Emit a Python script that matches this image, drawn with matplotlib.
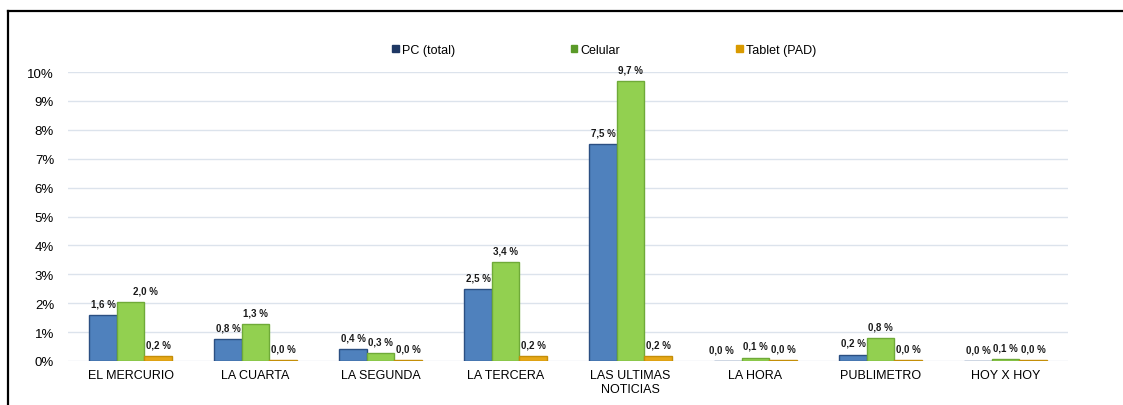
import numpy as np
import matplotlib
matplotlib.use("Agg")
import matplotlib.pyplot as plt
from matplotlib.patches import Patch
from matplotlib.lines import Line2D

plt.rcParams['font.family'] = ['Liberation Sans', 'DejaVu Sans']

medios = ["EL MERCURIO", "LA CUARTA", "LA SEGUNDA", "LA TERCERA",
          "LAS ULTIMAS\nNOTICIAS", "LA HORA", "PUBLIMETRO", "HOY X HOY"]
series = ["PC (total)", "Celular", "Tablet (PAD)"]
pc = [1.59, 0.76, 0.41, 2.48, 7.51, 0.0, 0.22, 0.0]
celular = [2.04, 1.27, 0.27, 3.41, 9.69, 0.12, 0.79, 0.07]
tablet = [0.16, 0.02, 0.02, 0.16, 0.16, 0.02, 0.03, 0.02]
yticks = [0, 1, 2, 3, 4, 5, 6, 7, 8, 9, 10]

face = ["#4F81BD", "#92D050", "#E6A817"]
edge = ["#2B4F82", "#6FAA38", "#C48E08"]
legcol = ["#1F3864", "#5A9A28", "#D99A00"]
# a few labels sit off-centre in the original
nudge = {(1, 0): 11, (0, 5): -5}

fig = plt.figure(figsize=(11.23, 4.06), dpi=100)
ax = fig.add_axes([68 / 1123, 1 - 362 / 406, 1000 / 1123, (362 - 73) / 406])

x = np.arange(len(medios))
w = 0.22
for i, vals in enumerate([pc, celular, tablet]):
    pos = x + (i - 1) * w
    ax.bar(pos, vals, w, color=face[i], edgecolor=edge[i], linewidth=1, zorder=3)
    for j, (p, v) in enumerate(zip(pos, vals)):
        txt = f"{v:.1f}".replace(".", ",") + " %"
        ax.annotate(txt, (p, v), xytext=(nudge.get((i, j), 0), 5),
                    textcoords="offset points", ha="center", va="bottom",
                    fontsize=7, fontweight="bold", color="#1a1a1a", zorder=4)

ax.set_xlim(-0.5, len(medios) - 0.5)
ax.set_ylim(0, 10)
ax.set_yticks(yticks)
ax.set_yticklabels([f"{t}%" for t in yticks], fontsize=9.5)
ax.set_xticks(x)
ax.set_xticklabels(medios, fontsize=9, linespacing=1.2)
ax.tick_params(length=0)
ax.tick_params(axis="y", pad=10)
ax.tick_params(axis="x", pad=6)
for s in ax.spines.values():
    s.set_visible(False)
ax.grid(axis="y", color="#DCE3EC", linewidth=1, zorder=0)

handles = [Patch(facecolor=c, edgecolor=c) for c in legcol]
fig.legend(handles, series, loc="center", bbox_to_anchor=(0.538, 1 - 51 / 406),
           ncol=3, frameon=False, fontsize=9, handlelength=0.5, handleheight=0.5,
           handletextpad=0.25, columnspacing=9.3)

fig.add_artist(Line2D([8 / 1123, 1], [1 - 12 / 406, 1 - 12 / 406],
                      transform=fig.transFigure, color="black", linewidth=1.6))
fig.add_artist(Line2D([8 / 1123, 8 / 1123], [0, 1 - 12 / 406],
                      transform=fig.transFigure, color="black", linewidth=1.6))

fig.savefig("out.png", dpi=100)
